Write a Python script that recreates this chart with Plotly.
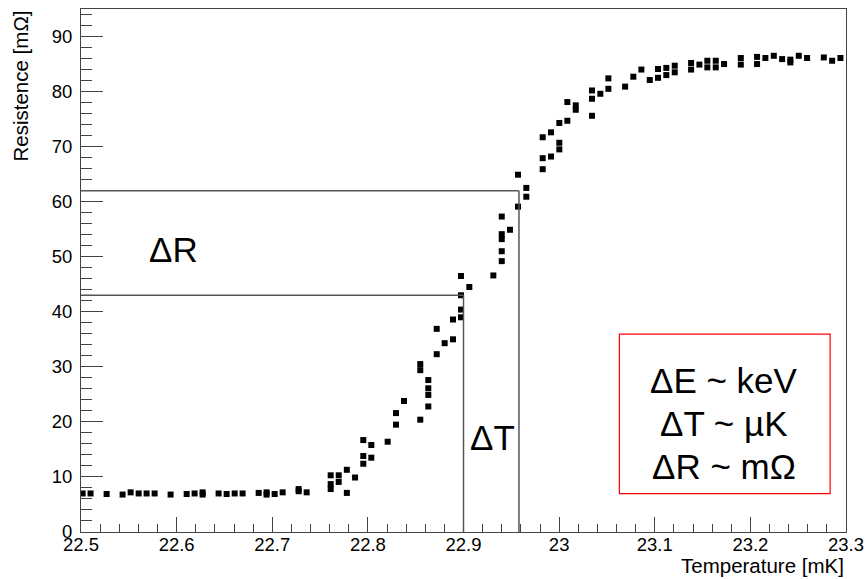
import plotly.graph_objects as go

# Measured transition curve: temperature [mK] and resistance [mOhm]
temperature = [
    22.5017, 22.5100, 22.5268, 22.5435, 22.5519, 22.5603, 22.5686, 22.5770,
    22.5937, 22.6105, 22.6188, 22.6272, 22.6272, 22.6439, 22.6523, 22.6607,
    22.6690, 22.6858, 22.6941, 22.6941, 22.7025, 22.7109, 22.7276, 22.7276,
    22.7360,
    22.7611, 22.7611, 22.7611, 22.7695, 22.7695, 22.7780, 22.7780, 22.7866,
    22.7952, 22.7952, 22.7952, 22.8036, 22.8036, 22.8207, 22.8294, 22.8294,
    22.8378, 22.8548, 22.8548, 22.8548, 22.8632, 22.8632, 22.8632, 22.8632,
    22.8720, 22.8720, 22.8803, 22.8890, 22.8890, 22.8974, 22.8974, 22.8974,
    22.8974, 22.9061, 22.9312, 22.9400, 22.9400, 22.9400, 22.9400, 22.9400,
    22.9486, 22.9570, 22.9570, 22.9657, 22.9657, 22.9828, 22.9828, 22.9828,
    22.9915, 22.9915, 23.0002, 23.0002, 23.0002, 23.0086, 23.0086, 23.0174,
    23.0174, 23.0344, 23.0344, 23.0344, 23.0431, 23.0515, 23.0515, 23.0690,
    23.0776, 23.0860, 23.0948, 23.1034, 23.1034, 23.1121, 23.1121, 23.1209,
    23.1209, 23.1380, 23.1380, 23.1467, 23.1550, 23.1550, 23.1638, 23.1638,
    23.1725, 23.1900, 23.1900, 23.2070, 23.2070, 23.2157, 23.2245, 23.2332,
    23.2418, 23.2418, 23.2506, 23.2593, 23.2768, 23.2855, 23.2942,
]
resistance = [
    7.0, 7.0, 6.9, 6.8, 7.2, 7.0, 7.0, 7.0,
    6.8, 6.9, 7.0, 6.8, 7.2, 7.0, 6.9, 7.0,
    7.0, 7.1, 6.8, 7.2, 6.9, 7.2, 7.4, 7.8,
    7.2,
    10.3, 8.7, 7.8, 10.3, 9.1, 11.3, 7.1, 9.9,
    16.7, 13.8, 12.4, 15.8, 13.5, 16.4, 21.6, 19.5,
    23.8, 30.5, 29.4, 20.4, 27.6, 26.1, 24.9, 22.8,
    36.9, 32.3, 34.3, 38.6, 35.0, 46.5, 43.0, 40.4,
    39.0, 44.5, 46.6, 57.3, 54.1, 53.2, 51.0, 49.2,
    54.9, 64.9, 59.1, 62.5, 60.9, 71.7, 67.9, 65.9,
    72.6, 68.2, 74.3, 70.7, 69.5, 78.1, 74.7, 77.5,
    76.7, 80.2, 78.7, 75.6, 79.6, 82.4, 80.5, 80.9,
    82.7, 84.0, 82.1, 84.1, 82.5, 84.3, 83.0, 84.7,
    83.5, 85.2, 84.0, 84.9, 85.6, 84.4, 85.6, 84.4,
    85.0, 86.1, 84.9, 86.3, 85.0, 86.1, 86.5, 85.9,
    85.8, 85.3, 86.5, 86.1, 86.2, 85.6, 86.1,
]

# Working points marking the temperature / resistance intervals
t_low, t_high = 22.9, 22.958
r_low, r_high = 43.0, 62.0

x_tick_vals = [22.5, 22.6, 22.7, 22.8, 22.9, 23.0, 23.1, 23.2, 23.3]
x_tick_text = ["22.5", "22.6", "22.7", "22.8", "22.9", "23", "23.1", "23.2", "23.3"]
y_tick_vals = [0, 10, 20, 30, 40, 50, 60, 70, 80, 90]
y_tick_text = ["0", "10", "20", "30", "40", "50", "60", "70", "80", "90"]

box_lines = ["ΔE ~ keV", "ΔT ~ µK", "ΔR ~ mΩ"]

FONT = "Liberation Sans, Arial, Helvetica, sans-serif"
AXC = "#444444"
LINEC = "#555555"

fig = go.Figure()
fig.add_trace(go.Scatter(
    x=temperature, y=resistance, mode="markers",
    marker=dict(symbol="square", size=6, color="black", line=dict(width=0)),
    showlegend=False, hoverinfo="x+y",
))

shapes = [
    # interval guide lines
    dict(type="line", xref="x", yref="y", x0=22.5, x1=t_high, y0=r_high, y1=r_high,
         line=dict(color=LINEC, width=1.5)),
    dict(type="line", xref="x", yref="y", x0=t_high, x1=t_high, y0=0, y1=r_high,
         line=dict(color=LINEC, width=1.5)),
    dict(type="line", xref="x", yref="y", x0=22.5, x1=t_low, y0=r_low, y1=r_low,
         line=dict(color=LINEC, width=1.5)),
    dict(type="line", xref="x", yref="y", x0=t_low, x1=t_low, y0=0, y1=r_low,
         line=dict(color=LINEC, width=1.5)),
    # text box
    dict(type="rect", xref="x", yref="y", x0=23.063, x1=23.2834, y0=6.98, y1=35.95,
         line=dict(color="#ff0000", width=1.2), fillcolor="white"),
]

annotations = [
    dict(text="ΔR", x=22.597, y=51.4, xref="x", yref="y", showarrow=False,
         font=dict(family=FONT, size=35, color="black"), xanchor="center", yanchor="middle"),
    dict(text="ΔT", x=22.930, y=17.2, xref="x", yref="y", showarrow=False,
         font=dict(family=FONT, size=35, color="black"), xanchor="center", yanchor="middle"),
]
for txt, yy in zip(box_lines, [27.6, 19.7, 11.9]):
    annotations.append(dict(text=txt, x=23.1725, y=yy, xref="x", yref="y", showarrow=False,
                            font=dict(family=FONT, size=35, color="black"),
                            xanchor="center", yanchor="middle"))

# axis titles
annotations.append(dict(text="Temperature [mK]", xref="paper", yref="paper", x=1, y=0,
                        xanchor="right", yanchor="top", yshift=-20, showarrow=False,
                        font=dict(family=FONT, size=20.5, color="black")))
annotations.append(dict(text="Resistence [mΩ]", xref="paper", yref="paper", x=0, y=1,
                        xanchor="center", yanchor="top", xshift=-61, textangle=-90,
                        showarrow=False, font=dict(family=FONT, size=20.5, color="black")))

fig.update_layout(
    width=866, height=579, autosize=False,
    margin=dict(l=81, r=20, t=9, b=47, pad=0, autoexpand=False),
    paper_bgcolor="white", plot_bgcolor="white",
    font=dict(family=FONT, color="black"),
    shapes=shapes, annotations=annotations,
    xaxis=dict(
        range=[22.5, 23.3], tickvals=x_tick_vals, ticktext=x_tick_text,
        automargin=False,
        ticks="inside", ticklen=15, tickwidth=1, tickcolor=AXC,
        showline=True, linecolor=AXC, linewidth=1, mirror=True,
        showgrid=False, zeroline=False,
        tickfont=dict(family=FONT, size=18.5, color="black"),
        minor=dict(ticks="inside", ticklen=8, dtick=0.02, tick0=22.5,
                   tickcolor=AXC, tickwidth=1, showgrid=False),
    ),
    yaxis=dict(
        range=[0, 95], tickvals=y_tick_vals, ticktext=y_tick_text,
        automargin=False, ticklabelstandoff=4,
        ticks="inside", ticklen=22, tickwidth=1, tickcolor=AXC,
        showline=True, linecolor=AXC, linewidth=1, mirror=True,
        showgrid=False, zeroline=False,
        tickfont=dict(family=FONT, size=18.5, color="black"),
        minor=dict(ticks="inside", ticklen=11, dtick=2, tick0=0,
                   tickcolor=AXC, tickwidth=1, showgrid=False),
    ),
)

# pull the temperature tick labels a little closer to the axis
try:
    fig.update_xaxes(ticklabelstandoff=-4)
except ValueError:
    pass

fig.write_html("out.html")
